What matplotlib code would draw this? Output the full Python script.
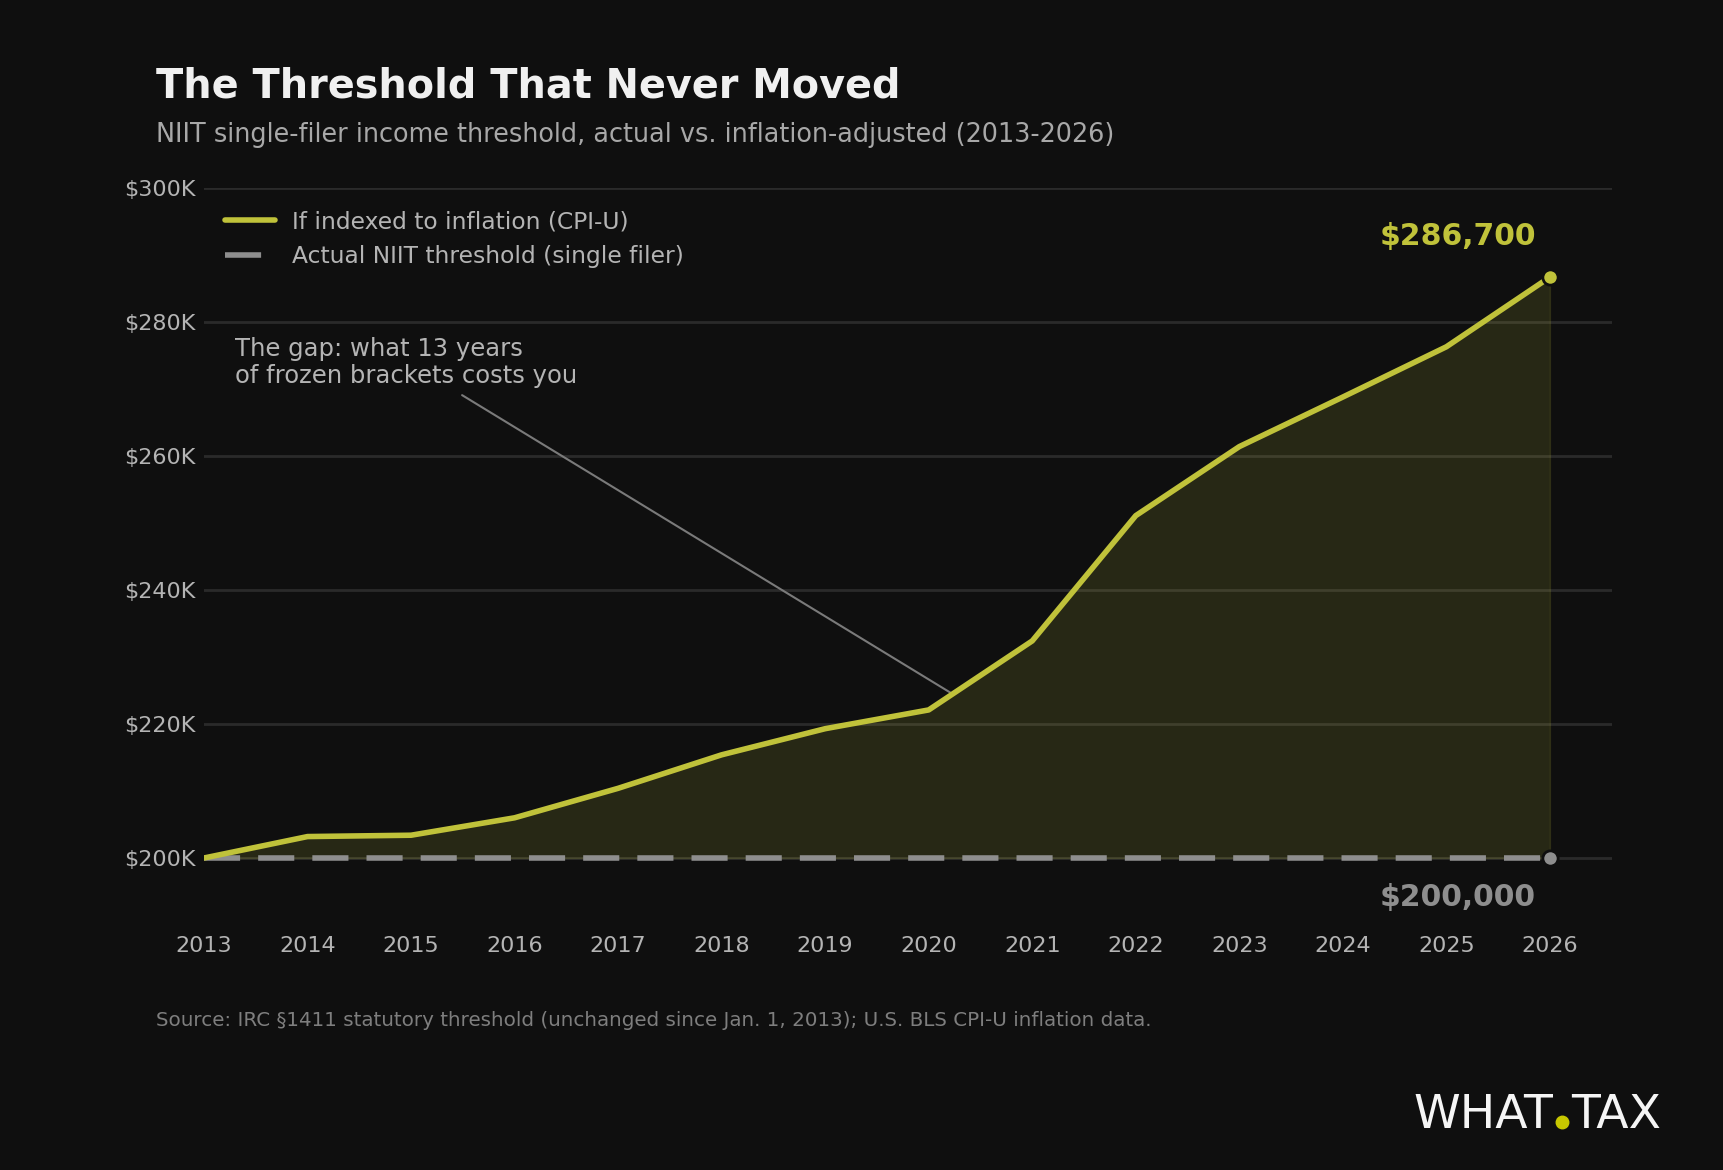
import matplotlib.pyplot as plt
from matplotlib.ticker import FuncFormatter

# data
years = [2013, 2014, 2015, 2016, 2017, 2018, 2019, 2020, 2021, 2022, 2023, 2024, 2025, 2026]
indexed = [200000, 203200, 203400, 206000, 210400, 215400, 219300, 222100,
           232400, 251100, 261400, 268800, 276300, 286700]
actual = [200000] * len(years)
y_ticks = [200000, 220000, 240000, 260000, 280000, 300000]

bg = '#0f0f0f'
yellow = '#c0c23a'
gray = '#8e8e8e'
txt = '#b4b4b4'

fig = plt.figure(figsize=(17.24, 11.7), dpi=100, facecolor=bg)
ax = fig.add_axes([204 / 1724, 1 - 925 / 1170, (1612 - 204) / 1724, (925 - 188) / 1170])
ax.set_facecolor(bg)

# shaded gap
ax.fill_between(years, actual, indexed, color=yellow, alpha=0.14, linewidth=1, zorder=2)

# lines
ax.plot(years, indexed, color=yellow, lw=4, solid_capstyle='round',
        label='If indexed to inflation (CPI-U)', zorder=4)
ax.plot(years, actual, color=gray, lw=4, dashes=(6.5, 3.25), dash_capstyle='butt',
        label='Actual NIIT threshold (single filer)', zorder=3)

# end markers
ax.plot(years[-1], indexed[-1], 'o', ms=11, color=yellow, mec=bg, mew=2, zorder=5)
ax.plot(years[-1], actual[-1], 'o', ms=11, color=gray, mec=bg, mew=2, zorder=5)

ax.annotate(f'${indexed[-1]:,}', xy=(years[-1], indexed[-1]), xytext=(-10, 29.5),
            textcoords='offset points', ha='right', va='center',
            fontsize=21.5, fontweight='bold', color=yellow)
ax.annotate(f'${actual[-1]:,}', xy=(years[-1], actual[-1]), xytext=(-10, -28.5),
            textcoords='offset points', ha='right', va='center',
            fontsize=21.5, fontweight='bold', color=gray)

# gap note
ax.text(2013.3, 277800, 'The gap: what 13 years\nof frozen brackets costs you',
        fontsize=17.5, color=txt, ha='left', va='top', linespacing=1.15)
ax.annotate('', xy=(2020.25, 224300), xytext=(2015.47, 269300),
            arrowprops=dict(arrowstyle='-', color='#7a7a7a', lw=1.5))

# axes styling
ax.set_xlim(2013, 2026.6)
ax.set_ylim(190000, 300000)
ax.set_xticks(years)
ax.set_yticks(y_ticks)
ax.yaxis.set_major_formatter(FuncFormatter(lambda v, p: f'${v/1000:.0f}K'))
ax.tick_params(axis='both', length=0, colors=txt, labelsize=16)
ax.tick_params(axis='x', pad=8)
ax.tick_params(axis='y', pad=6)
for s in ax.spines.values():
    s.set_visible(False)
ax.grid(axis='y', color='#2a2a2a', lw=2, zorder=1)
ax.set_axisbelow(True)

leg = ax.legend(loc='upper left', bbox_to_anchor=(0.0, 0.998), frameon=False,
                fontsize=16.8, labelcolor=txt, handlelength=2.15, handletextpad=0.7,
                labelspacing=0.5)

# titles and source
fig.text(156 / 1724, 1 - 87 / 1170, 'The Threshold That Never Moved', fontsize=28.6,
         fontweight='bold', color='#f0f0f0', va='center', ha='left')
fig.text(156 / 1724, 1 - 135.5 / 1170,
         'NIIT single-filer income threshold, actual vs. inflation-adjusted (2013-2026)',
         fontsize=18.4, color='#a8a8a8', va='center', ha='left')
fig.text(156 / 1724, 1 - 1020 / 1170,
         'Source: IRC §1411 statutory threshold (unchanged since Jan. 1, 2013); U.S. BLS CPI-U inflation data.',
         fontsize=14.3, color='#7e7e7e', va='center', ha='left')

# logo
fig.text(1553 / 1724, 1 - 1128 / 1170, 'WHAT', fontsize=34, color='#f5f5f5',
         ha='right', va='baseline')
fig.text(1571 / 1724, 1 - 1128 / 1170, 'TAX', fontsize=34, color='#f5f5f5',
         ha='left', va='baseline')
fig.add_artist(plt.Line2D([1562.5 / 1724], [1 - 1122 / 1170], marker='o', ms=9,
                          color='#c8c800', lw=0, transform=fig.transFigure))

fig.savefig('out.png', dpi=100, facecolor=bg)
